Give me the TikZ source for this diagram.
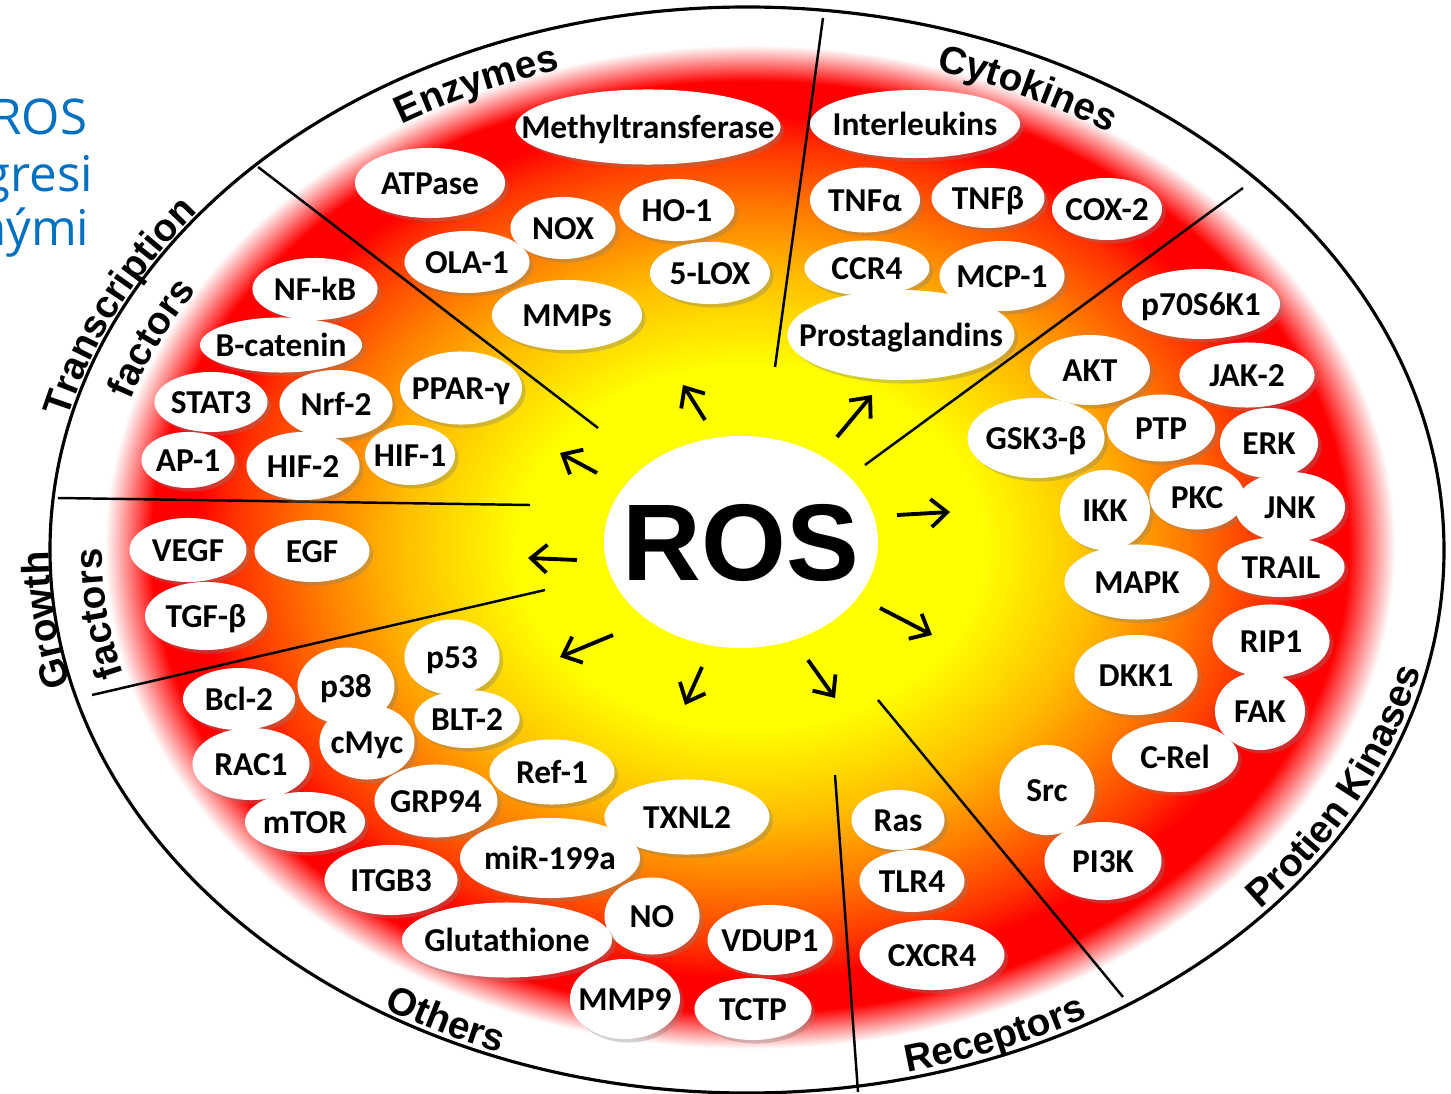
\documentclass[tikz,border=0pt]{standalone}
\usepackage{fontspec}
\usetikzlibrary{arrows.meta, positioning, shapes.geometric, shadows, decorations.text}

\newfontfamily\bubfont{Carlito}
\newfontfamily\headfont{Liberation Sans}
\newfontfamily\notefont{Open Sans}

\definecolor{glowyellow}{RGB}{255,255,0}
\definecolor{glowamber}{RGB}{255,190,0}
\definecolor{gloworange}{RGB}{255,120,0}
\definecolor{glowscarlet}{RGB}{255,50,0}
\definecolor{glowred}{RGB}{255,0,0}
\definecolor{noteblue}{RGB}{0,112,192}

% yellow core, red rim, fading out to white (25bp = edge of the path)
\pgfdeclareradialshading{rosglow}{\pgfpoint{0bp}{0bp}}{%
  color(0bp)=(glowyellow); color(9bp)=(glowyellow); color(13.5bp)=(glowamber);
  color(17bp)=(gloworange); color(20bp)=(glowscarlet); color(21.5bp)=(glowred);
  color(23.2bp)=(glowred); color(25bp)=(white); color(50bp)=(white)}

\begin{document}
\begin{tikzpicture}[x=0.01cm, y=-0.01cm,
    solo/.style={ellipse, fill=white, inner sep=0pt,
      execute at begin node={\hbox to 0pt\bgroup\hss},
      execute at end node={\hss\egroup}},
    bubble/.style={solo, text height=6.3pt, text depth=0pt,
      font=\bubfont\bfseries\fontsize{9.5}{11}\selectfont,
      drop shadow={shadow xshift=1pt, shadow yshift=-1pt, opacity=0.35}},
    hub/.style={solo, text height=22pt, text depth=0pt,
      font=\headfont\bfseries\fontsize{31}{34}\selectfont},
    wh/.style 2 args={minimum width=#1mm, minimum height=#2mm},
    divider/.style={line width=0.7pt},
    ray/.style={line width=1.1pt, -{Straight Barb[length=1.6mm, width=2.8mm]}},
    heading/.style={decorate, decoration={text along path, text align=center,
      text={|\headfont\bfseries\fontsize{11}{13}\selectfont|#1}}},
    note/.style={font=\notefont\fontsize{14}{16}\selectfont, text=noteblue,
      inner sep=0pt, anchor=base east}]

    \fill[white] (0,0) rectangle (1451,1094);
    \useasboundingbox (0,0) rectangle (1451,1094);

    % Rim and glow
    \draw[line width=0.9pt, fill=white] (747,550) ellipse [x radius=697, y radius=543];
    \shade[shading=rosglow] (750,547) ellipse [x radius=645, y radius=502];

    % Sector dividers
    \foreach \ax/\ay/\bx/\by in {598/428/258/167, 775/367/823/18, 865/465/1243/188,
                                 878/700/1123/997, 835/775/858/1092, 545/590/92/695,
                                 530/505/58/498}
        \draw[divider] (\ax,\ay) -- (\bx,\by);

    % Centre
    \node[hub, wh={27.4}{21.2}] (ros) at (741,542) {ROS};

    % Arrows out of the centre
    \foreach \tx/\ty/\hx/\hy in {-36/-122/-58/-157, 96/-105/131/-147, 156/-27/209/-30,
                                 139/66/191/93, 67/118/94/156, -39/125/-56/163,
                                 -128/93/-181/115, -164/18/-213/16, -144/-69/-181/-89}
        \draw[ray] ([shift={(\tx,\ty)}]ros.center) -- ([shift={(\hx,\hy)}]ros.center);

    % Enzymes
    \node[bubble, wh={26.5}{7.5}] (methyl) at (648,127) {Methyltransferase};
    \node[bubble, wh={15}{7}] (atpase) at (430,183) {ATPase};
    \node[bubble, wh={10.5}{6.2}] (nox) at (563,228) {NOX};
    \node[bubble, wh={11.5}{6.2}] (ho1) at (677,210) {HO-1};
    \node[bubble, wh={12.5}{6.2}] (ola1) at (467,262) {OLA-1};
    \node[bubble, wh={12}{6.2}] (lox5) at (710,273) {5-LOX};
    \node[bubble, wh={15}{7}] (mmps) at (567,315) {MMPs};

    % Cytokines
    \node[bubble, wh={21}{6.8}] (il) at (915,124) {Interleukins};
    \node[bubble, wh={11}{6.5}] (tnfa) at (865,200) {TNFα};
    \node[bubble, wh={11.3}{6}] (tnfb) at (988,198) {TNFβ};
    \node[bubble, wh={11}{6.2}] (cox2) at (1107,209) {COX-2};
    \node[bubble, wh={12.5}{5.5}] (ccr4) at (867,268) {CCR4};
    \node[bubble, wh={12.5}{7}] (mcp1) at (1002,276) {MCP-1};
    \node[bubble, wh={22.7}{9}] (pgs) at (901,335) {Prostaglandins};

    % Protein kinases
    \node[bubble, wh={15.8}{7}] (p70) at (1201,304) {p70S6K1};
    \node[bubble, wh={12}{7}] (akt) at (1090,370) {AKT};
    \node[bubble, wh={13.5}{6.5}] (jak2) at (1247,375) {JAK-2};
    \node[bubble, wh={13.7}{8}] (gsk3b) at (1036,438) {GSK3-β};
    \node[bubble, wh={10.8}{6.7}] (ptp) at (1161,428) {PTP};
    \node[bubble, wh={9.8}{7}] (erk) at (1269,443) {ERK};
    \node[bubble, wh={9}{8}] (ikk) at (1105,510) {IKK};
    \node[bubble, wh={9.5}{6.5}] (pkc) at (1197,497) {PKC};
    \node[bubble, wh={11}{7}] (jnk) at (1290,507) {JNK};
    \node[bubble, wh={14.5}{7.5}] (mapk) at (1137,582) {MAPK};
    \node[bubble, wh={12.7}{6}] (trail) at (1281,567) {TRAIL};
    \node[bubble, wh={11.7}{7.3}] (rip1) at (1271,641) {RIP1};
    \node[bubble, wh={12.3}{8}] (dkk1) at (1136,675) {DKK1};
    \node[bubble, wh={9}{7.8}] (fak) at (1260,711) {FAK};
    \node[bubble, wh={12.6}{7}] (crel) at (1175,757) {C-Rel};
    \node[bubble, wh={9.5}{9}] (src) at (1047,790) {Src};
    \node[bubble, wh={11.7}{7.8}] (pi3k) at (1103,861) {PI3K};

    % Receptors
    \node[bubble, wh={9.3}{6}] (ras) at (898,820) {Ras};
    \node[bubble, wh={10.5}{6.2}] (tlr4) at (912,881) {TLR4};
    \node[bubble, wh={14.5}{7}] (cxcr4) at (932,955) {CXCR4};

    % Others
    \node[bubble, wh={9.5}{7.5}] (p53) at (452,657) {p53};
    \node[bubble, wh={9.7}{7.7}] (p38) at (346,686) {p38};
    \node[bubble, wh={11.2}{6.2}] (bcl2) at (239,699) {Bcl-2};
    \node[bubble, wh={10.5}{5.8}] (blt2) at (467,719) {BLT-2};
    \node[bubble, wh={9.5}{7.5}] (cmyc) at (367,742) {cMyc};
    \node[bubble, wh={11.7}{7.2}] (rac1) at (251,764) {RAC1};
    \node[bubble, wh={12.5}{6.5}] (ref1) at (552,772) {Ref-1};
    \node[bubble, wh={12.3}{7.3}] (grp94) at (436,801) {GRP94};
    \node[bubble, wh={16.5}{7.5}] (txnl2) at (687,817) {TXNL2};
    \node[bubble, wh={12}{6}] (mtor) at (305,822) {mTOR};
    \node[bubble, wh={18}{8}] (mir199a) at (550,858) {miR-199a};
    \node[bubble, wh={13.3}{7}] (itgb3) at (391,880) {ITGB3};
    \node[bubble, wh={9.5}{7.7}] (no) at (652,916) {NO};
    \node[bubble, wh={21}{7.5}] (glut) at (507,940) {Glutathione};
    \node[bubble, wh={12.5}{7}] (vdup1) at (770,940) {VDUP1};
    \node[bubble, wh={11}{8}] (mmp9) at (625,999) {MMP9};
    \node[bubble, wh={11.7}{6.2}] (tctp) at (753,1009) {TCTP};

    % Growth factors
    \node[bubble, wh={11.7}{6.4}] (vegf) at (188,550) {VEGF};
    \node[bubble, wh={11.5}{6.2}] (egf) at (312,551) {EGF};
    \node[bubble, wh={12.2}{6.8}] (tgfb) at (206,616) {TGF-β};

    % Transcription factors
    \node[bubble, wh={12.5}{6.2}] (nfkb) at (315,289) {NF-kB};
    \node[bubble, wh={16.2}{5.5}] (bcat) at (281,345) {B-catenin};
    \node[bubble, wh={11.3}{6}] (stat3) at (211,402) {STAT3};
    \node[bubble, wh={11.3}{6.8}] (nrf2) at (336,404) {Nrf-2};
    \node[bubble, wh={12.2}{7.3}] (ppar) at (461,388) {PPAR-γ};
    \node[bubble, wh={9.3}{5.6}] (ap1) at (188,460) {AP-1};
    \node[bubble, wh={11.3}{6.8}] (hif2) at (303,466) {HIF-2};
    \node[bubble, wh={9}{6}] (hif1) at (410,455) {HIF-1};

    % Sector headings along the rim
    \path[heading=Enzymes] ([shift={(747,550)}]220:655 and 501)
        arc[start angle=220, end angle=270, x radius=655, y radius=501];
    \path[heading=Cytokines] ([shift={(747,550)}]271:655 and 501)
        arc[start angle=271, end angle=321, x radius=655, y radius=501];
    \path[heading=Transcription] ([shift={(747,550)}]177:700 and 546)
        arc[start angle=177, end angle=233, x radius=700, y radius=546];
    \path[heading=factors] ([shift={(747,550)}]184:647 and 493)
        arc[start angle=184, end angle=224, x radius=647, y radius=493];
    \path[heading=Growth] ([shift={(747,550)}]153:698 and 544)
        arc[start angle=153, end angle=193, x radius=698, y radius=544];
    \path[heading=factors] ([shift={(747,550)}]153:645 and 491)
        arc[start angle=153, end angle=193, x radius=645, y radius=491];
    \path[heading=Others] ([shift={(747,550)}]140:692 and 538)
        arc[start angle=140, end angle=94, x radius=692, y radius=538];
    \path[heading=Receptors] ([shift={(747,550)}]90:691 and 537)
        arc[start angle=90, end angle=46, x radius=691, y radius=537];
    \path[heading=Protien Kinases] ([shift={(747,550)}]54:691 and 537)
        arc[start angle=54, end angle=-1, x radius=691, y radius=537];

    % Side note
    \node[note] (n1) at (88,135) {ROS};
    \node[note] (n2) at (94,192) {gresi};
    \node[note] (n3) at (90,246) {nými};
\end{tikzpicture}
\end{document}
